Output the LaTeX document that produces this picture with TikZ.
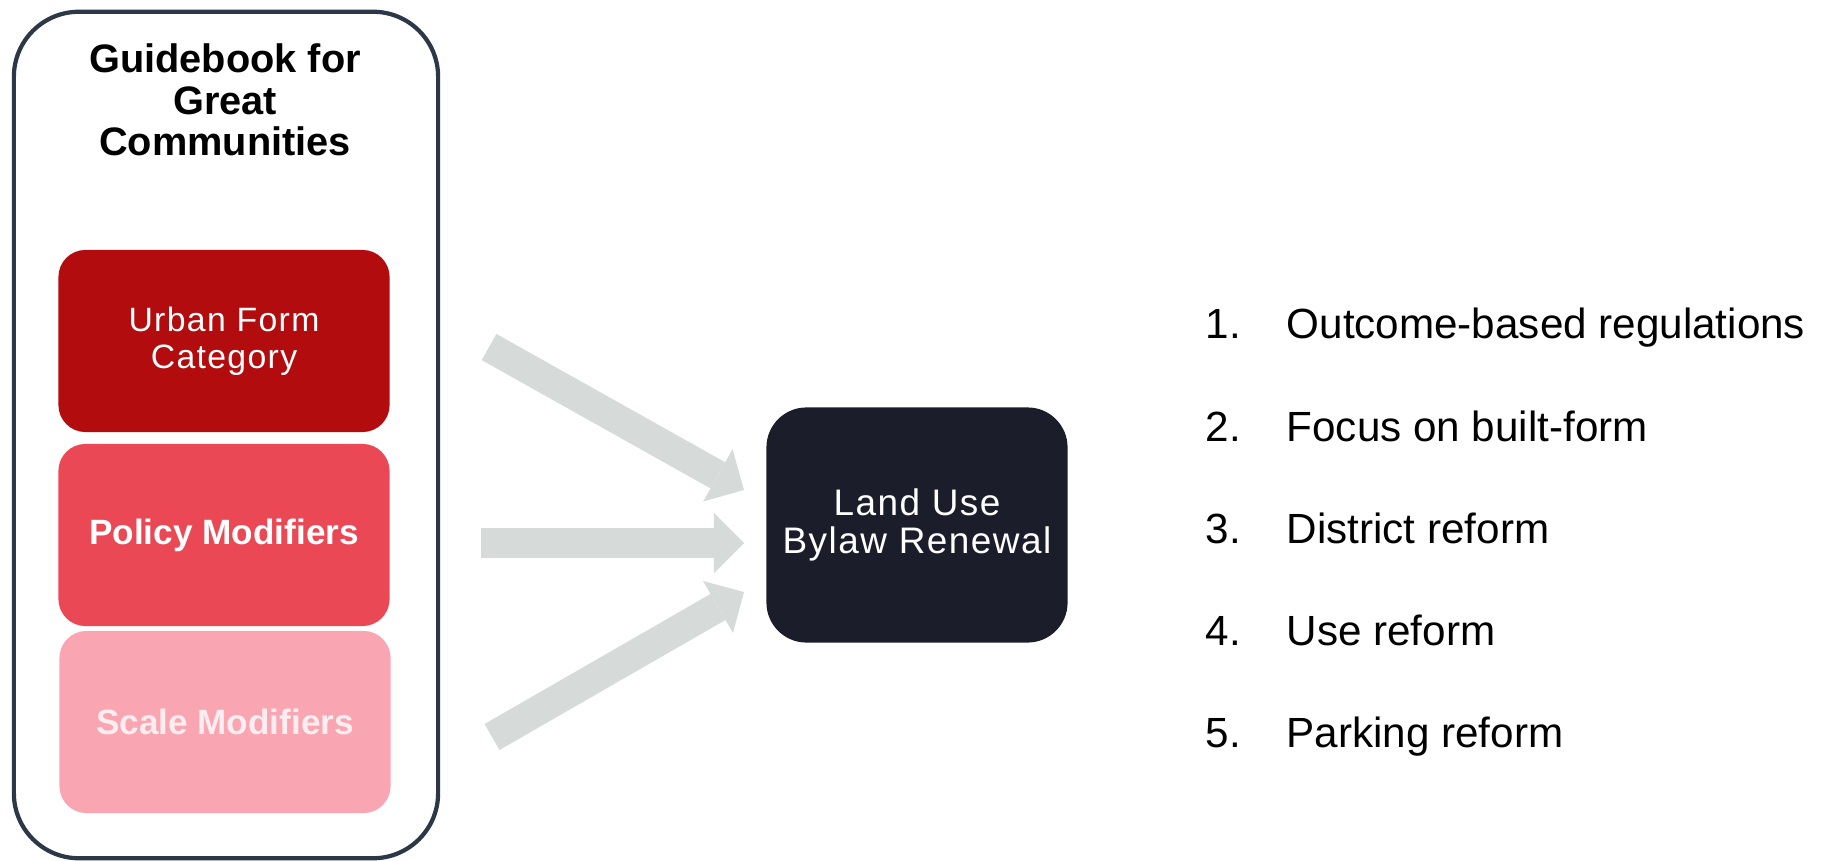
\documentclass[tikz,border=0pt]{standalone}
\usepackage{fontspec}
\setmainfont{Liberation Sans}
\newfontfamily\wideface[LetterSpace=4]{Liberation Sans}
\usetikzlibrary{arrows.meta}
\definecolor{urbanred}{RGB}{178,12,14}
\definecolor{policyred}{RGB}{234,72,84}
\definecolor{scalepink}{RGB}{249,166,178}
\definecolor{scaletext}{RGB}{252,238,240}
\definecolor{framenavy}{RGB}{44,56,72}
\definecolor{bylawblack}{RGB}{27,29,42}
\definecolor{arrowgray}{RGB}{214,219,218}
\begin{document}
\begin{tikzpicture}[x=0.01cm,y=-0.01cm,
	layer/.style={rounded corners=0.27cm, minimum width=3.31cm, minimum height=1.82cm, inner sep=0pt, text=white, align=center},
	bigarrow/.style={arrowgray, line width=0.3cm, -{Triangle[width=0.6cm,length=0.3cm,line width=0pt]}},
	item/.style={anchor=base west, inner sep=0pt, font=\fontsize{12}{14}\selectfont}]
	\useasboundingbox (0,0) rectangle (1831,861);
	\pgfmathsetmacro{\dy}{102}
	% guidebook frame and its three layers
	\node[draw=framenavy, line width=1.2pt, rounded corners=0.65cm, minimum width=4.24cm, minimum height=8.46cm] (guide) at (226,435) {};
	\node[align=center, font=\fontsize{11.3}{11.8}\selectfont\bfseries] (title) at (225,100) {Guidebook for\\Great\\Communities};
	\node[layer, fill=urbanred, font=\wideface\fontsize{9.6}{10.5}\selectfont] (urban) at (224,341) {Urban Form\\Category};
	\node[layer, fill=policyred, font=\fontsize{10}{12}\selectfont\bfseries] (policy) at (224,535) {Policy Modifiers};
	\node[layer, fill=scalepink, text=scaletext, font=\fontsize{10}{12}\selectfont\bfseries] (scale) at (225,722) {Scale Modifiers};
	% bylaw box
	\node[fill=bylawblack, rounded corners=0.4cm, minimum width=3.01cm, minimum height=2.35cm, text=white, align=center, font=\wideface\fontsize{10.5}{10.9}\selectfont] (bylaw) at (917,525) {Land Use\\Bylaw Renewal};
	% arrows
	\coordinate (t1) at (489,347);
	\coordinate (t2) at (481,543);
	\coordinate (t3) at (492,737);
	\coordinate (h1) at (744,490);
	\coordinate (h2) at (744,543);
	\coordinate (h3) at (744,592);
	\foreach \i in {1,2,3}
		\draw[bigarrow] (t\i) -- (h\i);
	% list
	\foreach \t [count=\i] in {Outcome-based regulations, Focus on built-form, District reform, Use reform, Parking reform} {
		\node[item] (num\i) at (1205,{339+(\i-1)*\dy}) {\i.};
		\node[item] (entry\i) at (1286,{339+(\i-1)*\dy}) {\t};
	}
\end{tikzpicture}
\end{document}
